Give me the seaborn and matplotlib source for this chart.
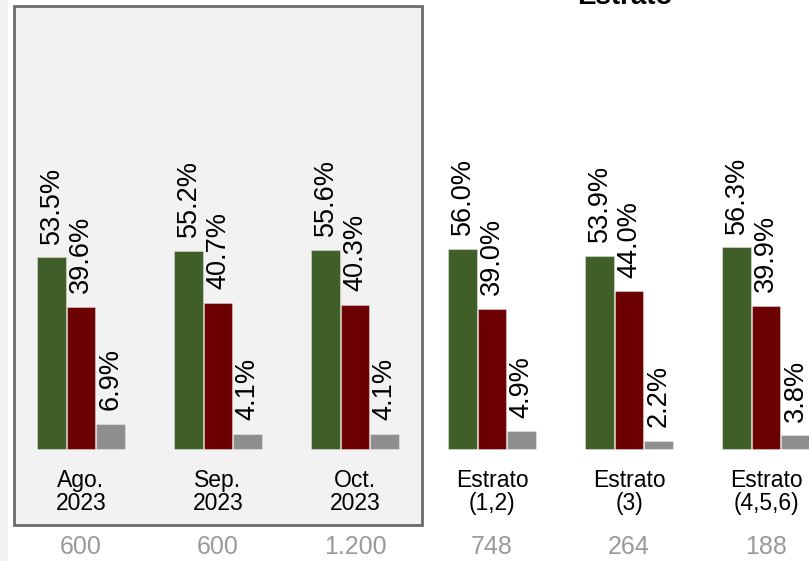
import pandas as pd
import seaborn as sns
import matplotlib.pyplot as plt
from matplotlib.patches import Rectangle

# Data
groups = ["Ago.\n2023", "Sep.\n2023", "Oct.\n2023",
          "Estrato\n(1,2)", "Estrato\n(3)", "Estrato\n(4,5,6)"]
counts = ["600", "600", "1.200", "748", "264", "188"]
series = ["Aprueba", "Desaprueba", "NS/NR"]
aprueba = [53.5, 55.2, 55.6, 56.0, 53.9, 56.3]
desaprueba = [39.6, 40.7, 40.3, 39.0, 44.0, 39.9]
nsnr = [6.9, 4.1, 4.1, 4.9, 2.2, 3.8]
colors = ["#405e28", "#6c0000", "#8e8e8e"]

rows = []
for name, vals in zip(series, [aprueba, desaprueba, nsnr]):
    for g, v in zip(groups, vals):
        rows.append({"grupo": g, "serie": name, "valor": v})
df = pd.DataFrame(rows)

sns.set_style("white")
plt.rcParams['font.family'] = ['Liberation Sans', 'DejaVu Sans']

W, H = 809, 561
fig = plt.figure(figsize=(W / 100, H / 100), dpi=100)
ax = fig.add_axes([0, 0, 1, 1])

# pixel mapping: group centre at 81 + 137*i, baseline at y=449, 3.58 px per %
step, x0, base, k = 137, 81, 449, 3.58

# background panels
ax.add_patch(Rectangle((0, 0), 8 / W, 1, transform=ax.transAxes,
                       facecolor="#f2f2f2", edgecolor="none", zorder=0))
ax.add_patch(Rectangle((14 / W, 1 - 525 / H), (422 - 14) / W, (525 - 6) / H,
                       transform=ax.transAxes, facecolor="#f2f2f2",
                       edgecolor="#6b6b6b", linewidth=2, zorder=0))

sns.barplot(data=df, x="grupo", y="valor", hue="serie", order=groups,
            hue_order=series, palette=colors, saturation=1, width=0.645,
            gap=0.04, legend=False, ax=ax, edgecolor=(1, 1, 1, 0.35),
            linewidth=0.8)

ax.set_xlim(-x0 / step, (W - x0) / step)
ax.set_ylim((base - H) / k, base / k)

for cont in ax.containers:
    ax.bar_label(cont, fmt="%.1f%%", rotation=90, padding=10, fontsize=19.5,
                 color="black")

for i, (g, c) in enumerate(zip(groups, counts)):
    ax.text(i, (base - 492) / k, g, ha="center", va="center", fontsize=16.5,
            linespacing=1.0, color="black")
    ax.text(i, (base - 547) / k, c, ha="center", va="center", fontsize=18,
            color="#9a9a9a")

ax.text(3.97, (base - 4) / k, "Estrato", ha="center", va="baseline",
        fontsize=20, fontweight="bold", color="black")

ax.set_axis_off()
fig.savefig("out.png", dpi=100)
